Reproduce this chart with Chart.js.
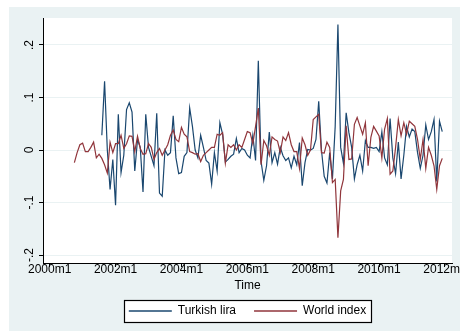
<!DOCTYPE html>
<html>
<head>
<meta charset="utf-8">
<script src="https://cdn.jsdelivr.net/npm/chart.js@4/dist/chart.umd.min.js"></script>
<style>
  body { margin: 0; background: #fff; }
</style>
</head>
<body>
<canvas id="chart" width="460" height="331"></canvas>
<script>
// months are counted from 2000m1 (= 0)
const worldStart = 9;   // 2000m10
const liraStart = 19;   // 2001m8

const worldIndex = [
  -0.024, -0.005, 0.010,
  0.013, -0.003, -0.003, 0.005, 0.015, -0.015, -0.008, -0.016, -0.028, -0.044, 0.015, -0.005,
  0.012, 0.012, 0.028, 0.003, 0.012, 0.027, 0.026, -0.003, 0.026, 0.003, -0.008, -0.007,
  0.012, 0.005, -0.018, -0.005, 0.003, -0.010, 0.000, 0.010, 0.028, 0.038, 0.020, 0.016,
  0.043, 0.030, 0.025, -0.003, -0.005, -0.008, -0.007, -0.022, -0.010, -0.005, 0.000, 0.005,
  0.005, 0.030, 0.028, 0.033, -0.025, 0.010, 0.005, 0.010, 0.000, 0.010, 0.005, 0.020,
  0.035, 0.033, 0.012, 0.045, 0.080, -0.028, 0.018, 0.008, -0.010, 0.025, 0.020, 0.017,
  -0.005, 0.025, 0.018, 0.033, 0.010, -0.003, -0.003, -0.035, 0.023, 0.010, -0.010, 0.000,
  0.058, 0.063, 0.068, -0.005, -0.006, 0.015, 0.005, -0.062, -0.056, -0.167, -0.078, -0.056,
  0.046, -0.018, -0.017, 0.049, 0.062, 0.046, 0.030, 0.052, -0.030, 0.024, 0.045, 0.036,
  0.027, -0.015, 0.040, 0.060, -0.046, -0.040, 0.005, 0.058, 0.027, 0.052, 0.030, 0.055,
  0.050, 0.045, 0.020, -0.018, 0.020, -0.035, 0.005, -0.010, -0.030, -0.075, -0.030, -0.016
];

const turkishLira = [
  0.028, 0.131, 0.000, -0.075, -0.018,
  -0.105, 0.068, -0.043, -0.010, 0.077, 0.090, 0.072, -0.040, 0.020, 0.005, -0.080, 0.068,
  0.005, -0.012, -0.030, 0.070, -0.082, -0.088, 0.000, -0.010, -0.005, 0.065, -0.015, -0.045,
  -0.043, -0.012, -0.005, 0.080, 0.045, 0.000, -0.015, 0.028, 0.005, -0.020, -0.025, -0.065,
  -0.005, -0.040, 0.052, 0.030, -0.023, -0.018, -0.012, -0.008, 0.022, -0.005, 0.003, 0.000,
  -0.010, -0.015, 0.028, -0.020, 0.170, -0.022, -0.058, -0.030, 0.034, -0.024, -0.005, -0.027,
  0.005, -0.011, -0.020, -0.015, -0.034, -0.012, -0.028, 0.014, -0.068, -0.024, 0.001, 0.000,
  0.003, 0.020, 0.093, 0.000, -0.050, -0.063, -0.005, -0.055, 0.045, 0.239, 0.005, -0.025,
  0.071, 0.033, 0.005, -0.055, -0.028, -0.010, -0.040, 0.018, 0.005, 0.005, 0.003, 0.005,
  -0.003, 0.035, -0.015, -0.028, 0.060, -0.015, -0.045, 0.015, -0.055, -0.010, 0.045, 0.025,
  0.040, 0.035, -0.005, -0.035, -0.010, 0.048, 0.020, 0.035, 0.058, -0.060, 0.055, 0.035
];

const xTicks = [0, 24, 48, 72, 96, 120, 144];
const xTickLabels = ['2000m1', '2002m1', '2004m1', '2006m1', '2008m1', '2010m1', '2012m1'];
const yTicks = [-0.2, -0.1, 0, 0.1, 0.2];
const yTickLabels = ['-.2', '-.1', '0', '.1', '.2'];

const navy = '#1a476f';
const maroon = '#90353b';
const FONT = "'Liberation Sans', Arial, sans-serif";

function toPoints(start, values) {
  return values.map((v, i) => ({ x: start + i, y: v }));
}

// stata-like background: bluish gray frame, white plot region, boxed legend
const stataBackground = {
  id: 'stataBackground',
  beforeDraw(chart) {
    const { ctx, chartArea } = chart;
    ctx.save();
    ctx.fillStyle = '#ffffff';
    ctx.fillRect(0, 0, chart.width, chart.height);
    ctx.fillStyle = '#eaf2f3';
    ctx.fillRect(9, 7, chart.width - 9, chart.height - 7);
    ctx.fillStyle = '#ffffff';
    ctx.fillRect(chartArea.left, chartArea.top, chartArea.right - chartArea.left, chartArea.bottom - chartArea.top);
    const boxes = chart.legend.legendHitBoxes;
    if (boxes && boxes.length) {
      const l = Math.round(Math.min(...boxes.map(b => b.left)) - 5);
      const r = Math.round(Math.max(...boxes.map(b => b.left + b.width)) + 5);
      const t = Math.round(boxes[0].top - 5);
      const h = 22;
      ctx.fillRect(l, t, r - l, h);
      ctx.strokeStyle = '#000';
      ctx.lineWidth = 1.2;
      ctx.strokeRect(l + 0.5, t + 0.5, r - l, h);
    }
    ctx.restore();
  }
};

new Chart(document.getElementById('chart'), {
  type: 'line',
  data: {
    datasets: [
      {
        label: 'Turkish lira',
        data: toPoints(liraStart, turkishLira),
        borderColor: navy,
        borderWidth: 1.2,
        pointRadius: 0,
        tension: 0,
        order: 2
      },
      {
        label: 'World index',
        data: toPoints(worldStart, worldIndex),
        borderColor: maroon,
        borderWidth: 1.2,
        pointRadius: 0,
        tension: 0,
        order: 1
      }
    ]
  },
  options: {
    responsive: false,
    animation: false,
    layout: { padding: { left: 0, top: 18, right: 8, bottom: 4 } },
    scales: {
      x: {
        type: 'linear',
        min: -2.43,
        max: 146.55,
        afterBuildTicks: s => { s.ticks = xTicks.map(v => ({ value: v })); },
        afterFit: s => { s.height = 24; s.paddingLeft = 0; s.paddingRight = 0; },
        ticks: {
          autoSkip: false,
          maxRotation: 0,
          padding: -5,
          color: '#000',
          font: { family: FONT, size: 12 },
          callback: (v) => xTickLabels[xTicks.indexOf(v)]
        },
        grid: { drawOnChartArea: false, drawTicks: true, tickLength: 4, tickColor: '#000' },
        border: { display: true, color: '#000', width: 1 },
        title: {
          display: true,
          text: 'Time',
          color: '#000',
          font: { family: FONT, size: 12 },
          padding: { top: 0, bottom: -6 }
        }
      },
      y: {
        min: -0.2152,
        max: 0.2514,
        afterBuildTicks: s => { s.ticks = yTicks.map(v => ({ value: v })); },
        afterFit: s => { s.width = 43; s.paddingTop = 0; s.paddingBottom = 0; },
        ticks: {
          minRotation: 90,
          maxRotation: 90,
          crossAlign: 'center',
          padding: 2,
          color: '#000',
          font: { family: FONT, size: 12 },
          callback: (v) => yTickLabels[yTicks.indexOf(v)]
        },
        grid: { color: '#eaf2f3', lineWidth: 1, drawTicks: true, tickLength: 4, tickColor: '#000' },
        border: { display: true, color: '#000', width: 1 }
      }
    },
    plugins: {
      legend: {
        position: 'bottom',
        fullSize: false,
        labels: {
          boxWidth: 43,
          boxHeight: 1.5,
          padding: 18,
          color: '#000',
          font: { family: FONT, size: 12 },
          generateLabels: chart => chart.data.datasets.map((ds, i) => ({
            text: ds.label,
            fillStyle: ds.borderColor,
            strokeStyle: ds.borderColor,
            lineWidth: 0,
            hidden: false,
            datasetIndex: i
          }))
        }
      },
      tooltip: { enabled: false }
    }
  },
  plugins: [stataBackground]
});
</script>
</body>
</html>
